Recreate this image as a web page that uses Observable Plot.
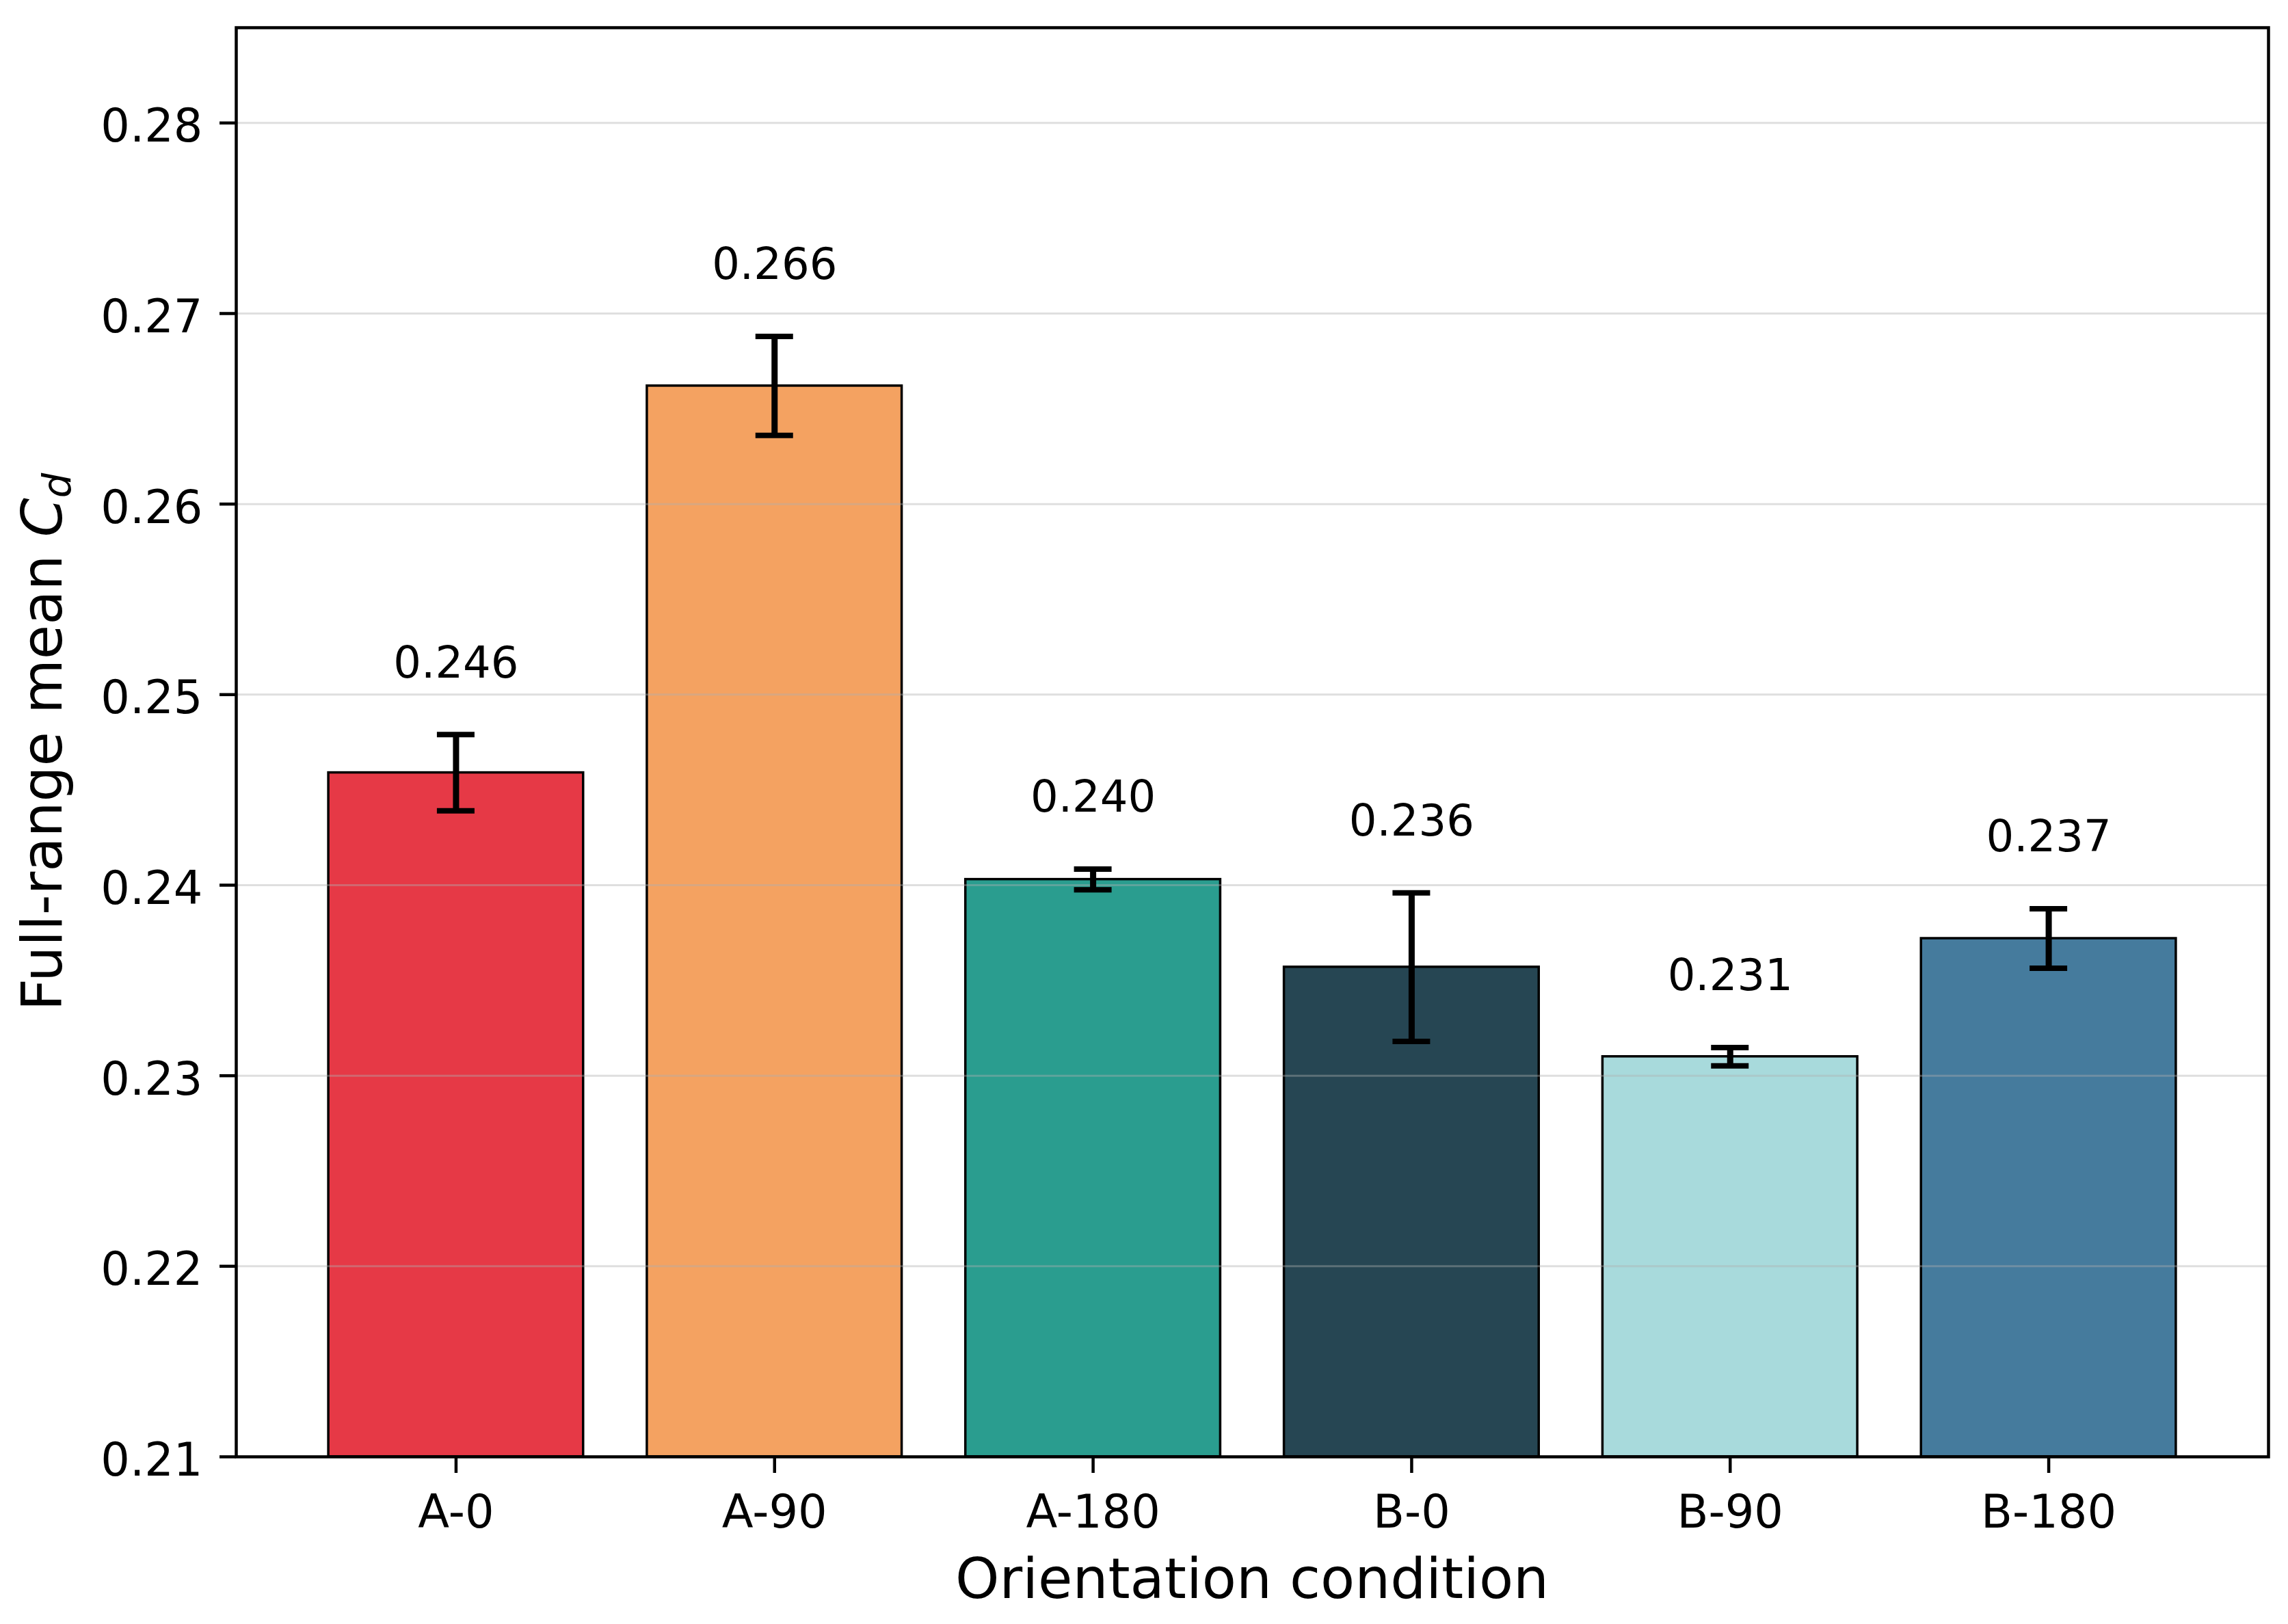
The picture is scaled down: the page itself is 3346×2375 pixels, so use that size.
<!DOCTYPE html>
<html>
<head>
<meta charset="utf-8">
<script src="https://cdn.jsdelivr.net/npm/d3@7"></script>
<script src="https://cdn.jsdelivr.net/npm/@observablehq/plot@0.6"></script>
<style>
  html, body { margin: 0; padding: 0; background: #ffffff; }
  #chart svg { display: block; }
</style>
</head>
<body>
<div id="chart"></div>
<script>
// ---- data ----
const conditions = ["A-0", "A-90", "A-180", "B-0", "B-90", "B-180"];
const means      = [0.2459, 0.2662, 0.2403, 0.2357, 0.2310, 0.2372];
const errors     = [0.0020, 0.0026, 0.00054, 0.0039, 0.00048, 0.00156];
const colors     = ["#e63946", "#f4a261", "#2a9d8f", "#264653", "#a8dadc", "#457b9d"];
const yTicks     = [0.21, 0.22, 0.23, 0.24, 0.25, 0.26, 0.27, 0.28];
const yDomain    = [0.21, 0.285];
const xLabel     = "Orientation condition";
const yLabelMain = "Full-range mean ";
const yLabelSym  = "C";
const yLabelSub  = "d";

const data = conditions.map((c, i) => ({cond: c, mean: means[i], err: errors[i], color: colors[i]}));

// ---- layout ----
const W = 3346, H = 2375;
const mL = 345, mR = 29, mT = 40, mB = 245;
const padInner = 0.2, padOuter = 0.29;
const step = (W - mL - mR) / (conditions.length - padInner + 2 * padOuter);
const bandW = step * (1 - padInner);
const capW = 55;
const capInset = (bandW - capW) / 2;
const FONT = "DejaVu Sans";
const tickFont = 67, valueFont = 64, labelFont = 82;

const chart = Plot.plot({
  width: W,
  height: H,
  marginLeft: mL,
  marginRight: mR,
  marginTop: mT,
  marginBottom: mB,
  style: {fontFamily: FONT, color: "black", background: "white"},
  x: {type: "band", domain: conditions, paddingInner: padInner, paddingOuter: padOuter, align: 0.5, round: false, axis: null},
  y: {domain: yDomain, axis: null},
  marks: [
    Plot.barY(data, {x: "cond", y1: yDomain[0], y2: "mean", fill: d => d.color, stroke: "black", strokeWidth: 3.5}),
    Plot.gridY(yTicks, {stroke: "#b0b0b0", strokeOpacity: 0.4, strokeWidth: 3}),
    Plot.ruleX(data, {x: "cond", y1: d => d.mean - d.err, y2: d => d.mean + d.err, stroke: "black", strokeWidth: 9}),
    Plot.tickY(data, {x: "cond", y: d => d.mean + d.err, stroke: "black", strokeWidth: 8, insetLeft: capInset, insetRight: capInset}),
    Plot.tickY(data, {x: "cond", y: d => d.mean - d.err, stroke: "black", strokeWidth: 8, insetLeft: capInset, insetRight: capInset}),
    Plot.text(data, {x: "cond", y: d => d.mean + d.err + 0.003, text: d => d3.format(".3f")(d.mean), lineAnchor: "bottom", fontSize: valueFont, fill: "black"}),
    // x axis: ticks + labels
    Plot.axisX(conditions, {tickSize: 24, tickPadding: 32, fontSize: tickFont, strokeWidth: 4.5, label: null}),
    // y axis ticks
    Plot.axisY(yTicks, {tickSize: 24, fill: "none", strokeWidth: 4.5, label: null}),
    // y axis labels
    Plot.axisY(yTicks, {tickSize: 0, tickPadding: 49, fontSize: tickFont, tickFormat: d3.format(".2f"), dy: 6, label: null}),
    Plot.frame({stroke: "black", strokeWidth: 4.5})
  ]
});

const svg = d3.select(chart);
// x axis label
svg.append("text")
  .attr("x", (mL + (W - mR)) / 2)
  .attr("y", 2337)
  .attr("text-anchor", "middle")
  .attr("font-family", FONT)
  .attr("font-size", labelFont)
  .attr("fill", "black")
  .text(xLabel);

// y axis label with italic C and subscript d
const yl = svg.append("text")
  .attr("transform", `translate(90, ${(mT + (H - mB)) / 2}) rotate(-90)`)
  .attr("text-anchor", "middle")
  .attr("font-family", FONT)
  .attr("font-size", labelFont)
  .attr("fill", "black");
yl.append("tspan").text(yLabelMain);
yl.append("tspan").attr("font-style", "italic").text(yLabelSym);
yl.append("tspan").attr("font-style", "italic").attr("font-size", "0.7em").attr("dy", "0.22em").text(yLabelSub);

document.getElementById("chart").appendChild(chart);
</script>
</body>
</html>
